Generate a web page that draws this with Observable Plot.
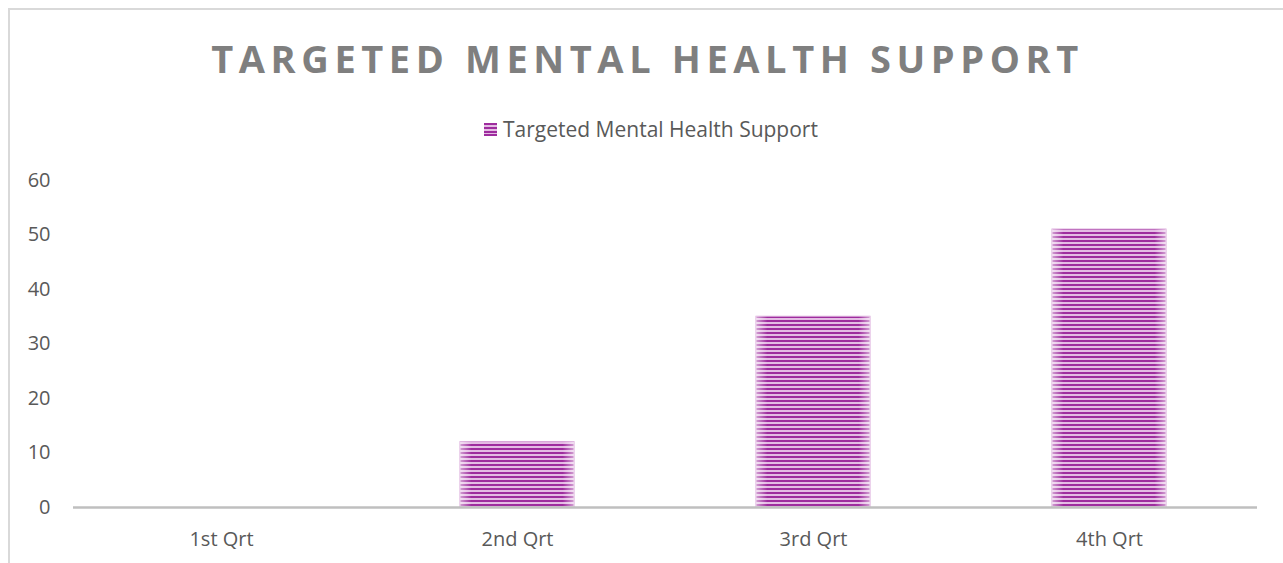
<!DOCTYPE html>
<html>
<head>
<meta charset="utf-8">
<script src="https://cdn.jsdelivr.net/npm/d3@7"></script>
<script src="https://cdn.jsdelivr.net/npm/@observablehq/plot@0.6"></script>
<style>
  html, body { margin: 0; padding: 0; background: #fff; }
  #wrap { position: relative; width: 1283px; height: 563px; overflow: hidden; font-family: "Open Sans", sans-serif; }
  #frame { position: absolute; left: 8px; top: 8px; width: 1290px; height: 570px; border: 2px solid #d9d9d9; box-sizing: border-box; }
  #title { position: absolute; left: 0; width: 1295px; top: 39px; text-align: center; font-size: 38px; font-weight: 700; letter-spacing: 5.6px; color: #7f7f7f; line-height: 1; }
  #legend { position: absolute; left: 484px; top: 119px; font-size: 21px; color: #595959; display: flex; align-items: center; gap: 6px; line-height: 1; }
  #legend svg { display: block; }
  #chart { position: absolute; left: 0; top: 160px; }
</style>
</head>
<body>
<div id="wrap">
  <div id="frame"></div>
  <div id="title">TARGETED MENTAL HEALTH SUPPORT</div>
  <div id="legend"></div>
  <div id="chart"></div>
</div>
<script>
const seriesName = "Targeted Mental Health Support";
const quarters = ["1st Qrt", "2nd Qrt", "3rd Qrt", "4th Qrt"];
const values = [0, 12, 35, 51];
const yTicks = [0, 10, 20, 30, 40, 50, 60];

const data = quarters.map((q, i) => ({quarter: q, value: values[i]}));

const defs = `
  <defs>
    <pattern id="stripes" patternUnits="userSpaceOnUse" width="8" height="4" y="0">
      <rect width="8" height="4" fill="#e4bce4"/>
      <rect width="8" height="2" fill="#9e2c9e"/>
    </pattern>
    <linearGradient id="edges" x1="0" x2="1" y1="0" y2="0">
      <stop offset="0" stop-color="#fff" stop-opacity="0.55"/>
      <stop offset="0.1" stop-color="#fff" stop-opacity="0"/>
      <stop offset="0.9" stop-color="#fff" stop-opacity="0"/>
      <stop offset="1" stop-color="#fff" stop-opacity="0.55"/>
    </linearGradient>
  </defs>`;

const chart = Plot.plot({
  width: 1283,
  height: 403,
  marginTop: 20,
  marginBottom: 56,
  marginLeft: 73,
  marginRight: 26,
  style: {fontFamily: "'Open Sans', sans-serif", fontSize: "20px", color: "#595959", background: "transparent"},
  x: {domain: quarters, paddingInner: 0.615, paddingOuter: 0.3075, label: null, tickSize: 0, tickPadding: 24},
  y: {domain: [0, 60], ticks: yTicks, label: null, tickSize: 0, tickPadding: 23},
  marks: [
    Plot.barY(data, {x: "quarter", y: "value", fill: "url(#stripes)", stroke: "#d9a6d9", strokeWidth: 1}),
    Plot.barY(data, {x: "quarter", y: "value", fill: "url(#edges)"}),
    Plot.ruleY([0], {stroke: "#bfbfbf", strokeWidth: 2.5})
  ]
});
d3.select(chart).insert(() => new DOMParser().parseFromString(`<svg xmlns="http://www.w3.org/2000/svg">${defs}</svg>`, "image/svg+xml").documentElement.firstElementChild, ":first-child");
document.getElementById("chart").appendChild(chart);

const legend = document.getElementById("legend");
legend.innerHTML = `<svg width="13" height="13">
  <rect width="13" height="13" fill="#e4bce4"/>
  <rect y="0" width="13" height="2" fill="#9e2c9e"/>
  <rect y="4" width="13" height="2" fill="#9e2c9e"/>
  <rect y="8" width="13" height="2" fill="#9e2c9e"/>
  <rect y="11" width="13" height="2" fill="#9e2c9e"/>
</svg><span>${seriesName}</span>`;
</script>
</body>
</html>
